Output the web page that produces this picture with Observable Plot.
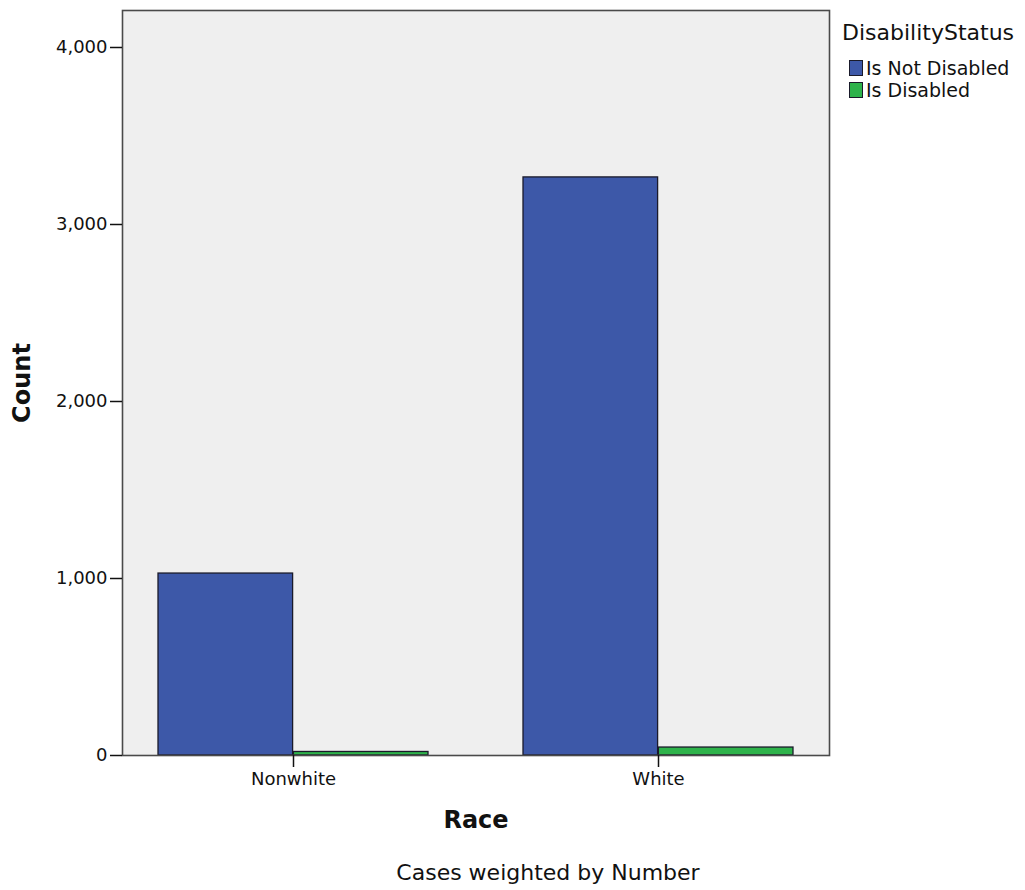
<!DOCTYPE html>
<html><head><meta charset="utf-8">
<script src="https://cdn.jsdelivr.net/npm/d3@7"></script>
<script src="https://cdn.jsdelivr.net/npm/@observablehq/plot@0.6"></script>
<style>
body{margin:0;background:#fff;font-family:"DejaVu Sans",sans-serif;color:#111;}
#wrap{position:relative;width:1025px;height:890px;}
#chart svg{display:block;}
#legend{position:absolute;left:842px;top:19px;}
#legend .title{font-size:22px;line-height:28px;}
#legend .item{display:flex;align-items:center;height:22px;font-size:19px;margin-left:7px;}
#legend .sw{width:14px;height:16px;border:1.5px solid #1a1a2a;margin-right:3px;box-sizing:border-box;}
#legend .items{margin-top:10px;}
#caption{position:absolute;left:0;width:1096px;text-align:center;top:860px;font-size:22px;}
</style></head><body>
<div id="wrap"><div id="chart"></div><div id="legend"></div><div id="caption">Cases weighted by Number</div></div>
<script>
const races = ["Nonwhite", "White"];
const statuses = ["Is Not Disabled", "Is Disabled"];
const notDisabledCounts = [1028, 3266];
const disabledCounts = [20, 45];
const yTicks = [0, 1000, 2000, 3000, 4000];
const colors = ["#3d58a8", "#2eb34b"];
const legendTitle = "DisabilityStatus";

const data = races.flatMap((r, i) => [
  {race: r, status: statuses[0], count: notDisabledCounts[i]},
  {race: r, status: statuses[1], count: disabledCounts[i]}
]);

const W = 1025, H = 850, mL = 122, mR = 196, mT = 10, mB = 95;
const pIn = 0.26, pOut = 0.096;
const step = (W - mL - mR) / (races.length - pIn + 2 * pOut);
const half = step * (1 - pIn) / 2;

const chart = Plot.plot({
  width: W, height: H,
  marginLeft: mL, marginRight: mR, marginTop: mT, marginBottom: mB,
  style: {fontFamily: "DejaVu Sans", fontSize: "18px", color: "#111", background: "transparent"},
  x: {type: "band", domain: races, paddingInner: pIn, paddingOuter: pOut},
  y: {domain: [0, 4209]},
  color: {domain: statuses, range: colors},
  marks: [
    Plot.frame({fill: "#efefef", stroke: null}),
    Plot.barY(data.filter(d => d.status === statuses[0]), {x: "race", y: "count", fill: "status", stroke: "#1a1a2a", strokeWidth: 1.3, insetRight: half}),
    Plot.barY(data.filter(d => d.status === statuses[1]), {x: "race", y: "count", fill: "status", stroke: "#1a1a2a", strokeWidth: 1.3, insetLeft: half}),
    Plot.frame({stroke: "#4a4a4a", strokeWidth: 1.6}),
    Plot.axisY({ticks: yTicks, tickFormat: d3.format(","), tickSize: 12, tickPadding: 3, strokeWidth: 1.5, label: null}),
    Plot.axisX({tickSize: 12, tickPadding: 5, strokeWidth: 1.5, label: null}),
    Plot.text(["Count"], {text: d => d, frameAnchor: "left", dx: -100, rotate: -90, textAnchor: "middle", lineAnchor: "middle", fontSize: 24, fontWeight: "bold"}),
    Plot.text(["Race"], {text: d => d, frameAnchor: "bottom", dy: 65, textAnchor: "middle", lineAnchor: "middle", fontSize: 24, fontWeight: "bold"})
  ]
});
document.getElementById("chart").appendChild(chart);

const lg = document.getElementById("legend");
lg.innerHTML = `<div class="title">${legendTitle}</div><div class="items">` +
  statuses.map((s, i) => `<div class="item"><div class="sw" style="background:${colors[i]}"></div><span>${s}</span></div>`).join("") +
  `</div>`;
</script>
</body></html>
